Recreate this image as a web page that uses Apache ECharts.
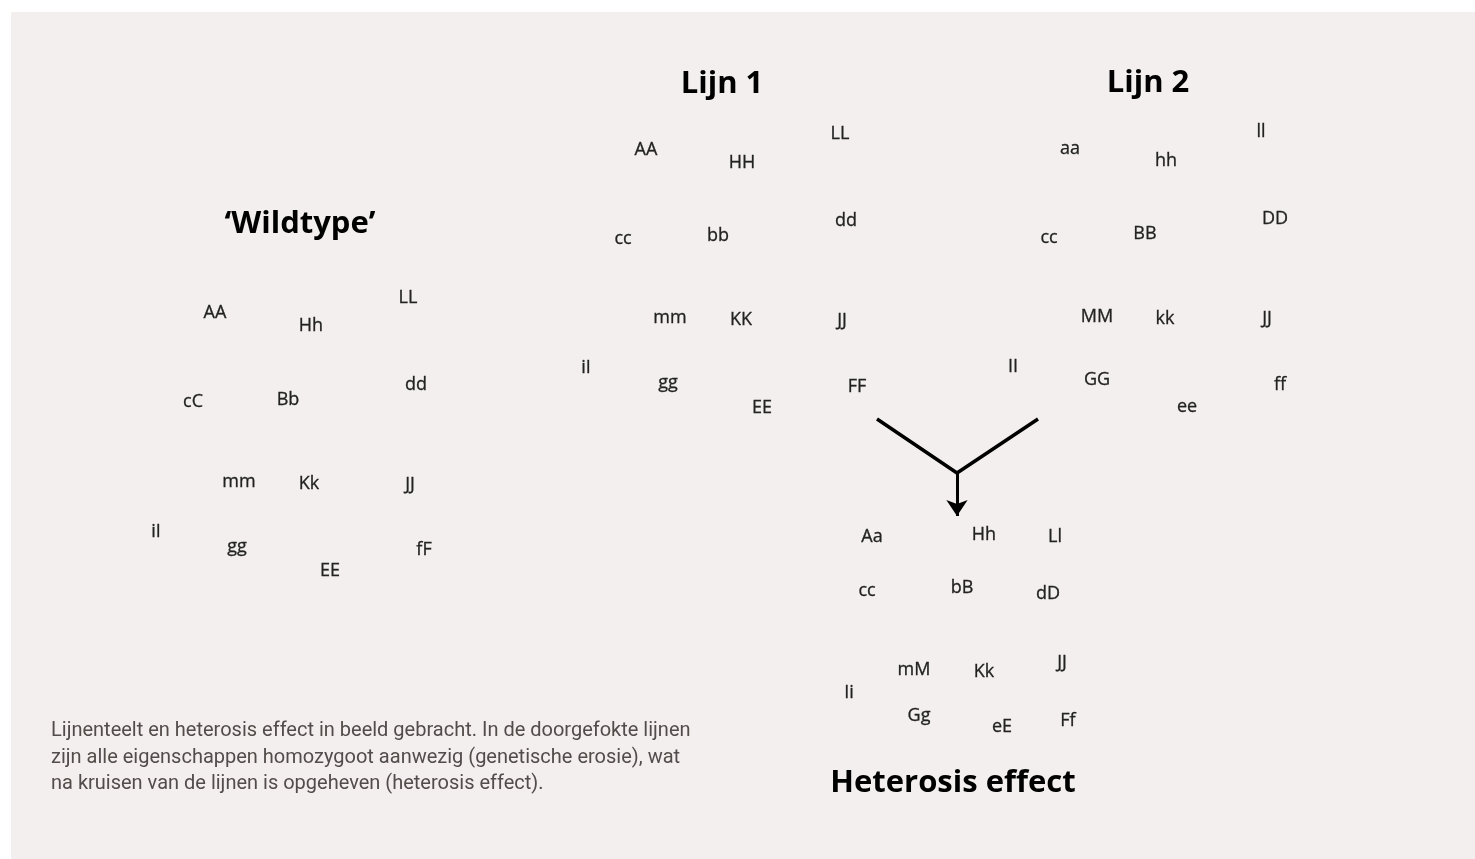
<!DOCTYPE html>
<html>
<head>
<meta charset="utf-8">
<script src="https://cdn.jsdelivr.net/npm/echarts@6/dist/echarts.min.js"></script>
<style>
  html, body { margin: 0; padding: 0; background: #fff; }
  #main { width: 1475px; height: 859px; }
</style>
</head>
<body>
<div id="main"></div>
<script>
// kopjes
const titleLabels = ['\u2018Wildtype\u2019', 'Lijn 1', 'Lijn 2', 'Heterosis effect'];
const titleX = [300, 722, 1148, 953];
const titleY = [222, 82, 81, 781];

// 'Wildtype'
const wildLabels = ['AA', 'Hh', 'LL', 'cC', 'Bb', 'dd', 'mm', 'Kk', 'JJ', 'iI', 'gg', 'EE', 'fF'];
const wildX = [215, 311, 408, 193, 288, 416, 239, 309, 410, 156, 237, 330, 424];
const wildY = [311, 324, 296, 400, 398, 383, 480, 482, 483, 530, 545, 569, 548];

// Lijn 1
const lijn1Labels = ['AA', 'HH', 'LL', 'cc', 'bb', 'dd', 'mm', 'KK', 'JJ', 'iI', 'gg', 'EE', 'FF'];
const lijn1X = [646, 742, 840, 623, 718, 846, 670, 741, 842, 586, 668, 762, 857];
const lijn1Y = [148, 161, 132, 237, 234, 219, 316, 318, 319, 366, 381, 406, 385];

// Lijn 2
const lijn2Labels = ['aa', 'hh', 'll', 'cc', 'BB', 'DD', 'MM', 'kk', 'JJ', 'II', 'GG', 'ee', 'ff'];
const lijn2X = [1070, 1166, 1261, 1049, 1145, 1275, 1097, 1165, 1267, 1013, 1097, 1187, 1280];
const lijn2Y = [147, 159, 130, 236, 232, 217, 315, 317, 317, 365, 378, 405, 383];

// na kruisen
const hetLabels = ['Aa', 'Hh', 'Ll', 'cc', 'bB', 'dD', 'mM', 'Kk', 'JJ', 'Ii', 'Gg', 'eE', 'Ff'];
const hetX = [872, 984, 1055, 867, 962, 1048, 914, 984, 1062, 849, 919, 1002, 1068];
const hetY = [535, 533, 535, 589, 586, 592, 668, 670, 661, 691, 714, 725, 719];

// kruisingspijl
const crossX = [877, 957, 1038];
const crossY = [419, 473, 419];
const arrowX = [957, 957];
const arrowY = [473, 516];

const caption = [
  'Lijnenteelt en heterosis effect in beeld gebracht. In de doorgefokte lijnen',
  'zijn alle eigenschappen homozygoot aanwezig (genetische erosie), wat',
  'na kruisen van de lijnen is opgeheven (heterosis effect).'
];

function pts(labels, xs, ys) {
  return labels.map((l, i) => ({ name: l, value: [xs[i], ys[i]] }));
}

function labelSeries(labels, xs, ys) {
  return {
    type: 'scatter',
    symbolSize: 0,
    silent: true,
    itemStyle: { opacity: 1 },
    data: pts(labels, xs, ys),
    label: {
      show: true,
      position: 'inside',
      offset: [0, 2],
      formatter: p => p.name,
      fontFamily: 'Open Sans',
      fontSize: 18,
      color: '#222',
      textBorderColor: '#222',
      textBorderWidth: 0.3
    }
  };
}

const chart = echarts.init(document.getElementById('main'));

chart.setOption({
  backgroundColor: '#ffffff',
  animation: false,
  grid: { left: 0, right: 0, top: 0, bottom: 0 },
  xAxis: { type: 'value', min: 0, max: 1475, show: false },
  yAxis: { type: 'value', min: 0, max: 859, inverse: true, show: false },
  graphic: [
    {
      type: 'rect',
      z: -10,
      shape: { x: 11, y: 12, width: 1464, height: 847 },
      style: { fill: '#f3efee' }
    },
    {
      type: 'text',
      left: 51,
      top: 718,
      style: {
        text: caption.join('\n'),
        fontFamily: 'Roboto',
        fontSize: 20,
        lineHeight: 26.5,
        fill: '#524c4a'
      }
    }
  ],
  series: [
    labelSeries(wildLabels, wildX, wildY),
    labelSeries(lijn1Labels, lijn1X, lijn1Y),
    labelSeries(lijn2Labels, lijn2X, lijn2Y),
    labelSeries(hetLabels, hetX, hetY),
    {
      type: 'scatter',
      symbolSize: 0,
      silent: true,
      itemStyle: { opacity: 1 },
      data: pts(titleLabels, titleX, titleY),
      label: {
        show: true,
        position: 'inside',
        offset: [0, 2],
        formatter: p => p.name,
        fontFamily: 'Open Sans',
        fontWeight: 'bold',
        fontSize: 31,
        color: '#000'
      }
    },
    {
      type: 'line',
      silent: true,
      symbol: 'none',
      data: crossX.map((x, i) => [x, crossY[i]]),
      lineStyle: { color: '#000', width: 3.5 }
    },
    {
      type: 'lines',
      coordinateSystem: 'cartesian2d',
      silent: true,
      symbol: ['none', 'arrow'],
      symbolSize: [13, 16],
      data: [{ coords: arrowX.map((x, i) => [x, arrowY[i]]) }],
      lineStyle: { color: '#000', width: 3, opacity: 1 }
    }
  ]
});
</script>
</body>
</html>
